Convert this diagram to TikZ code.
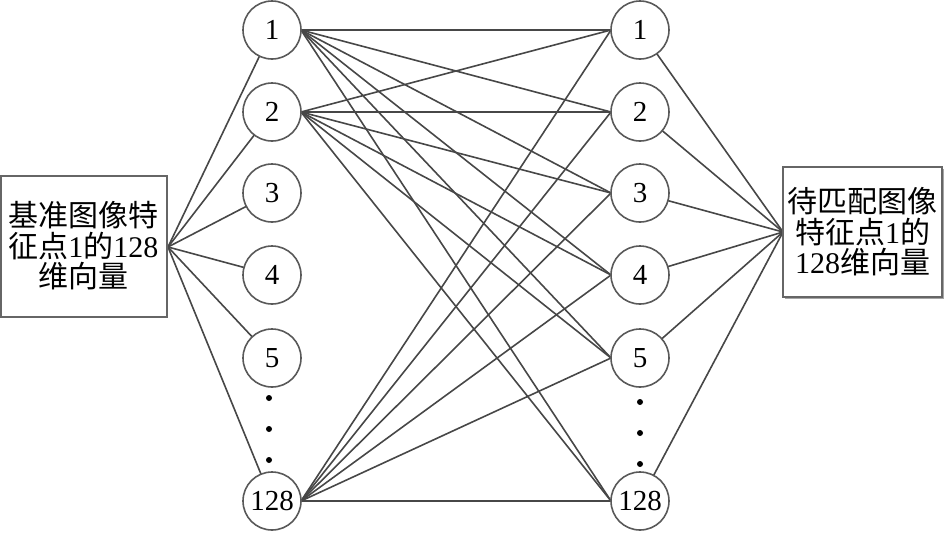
\documentclass[tikz,border=0pt]{standalone}
\usepackage{fontspec}
\setmainfont{Liberation Serif}
\newfontfamily\cjk{Noto Sans CJK SC}
\usetikzlibrary{shadows}
\begin{document}
\begin{tikzpicture}[x=1pt,y=-1pt,
  neuron/.style={circle,draw=black!65,line width=1.6pt,fill=white,minimum size=58pt,inner sep=0pt,font=\fontsize{29}{29}\selectfont},
  vecbox/.style={rectangle,draw=black!60,line width=2pt,fill=white,inner sep=0pt,align=center,
     font=\fontsize{30}{30.5}\selectfont,
     general shadow={shadow xshift=1.5pt,shadow yshift=-1.5pt,fill=black!35}},
  link/.style={draw=black!72,line width=1.6pt},
  dotn/.style={circle,fill=black,inner sep=0pt,minimum size=6pt}]
\useasboundingbox (0,0) rectangle (945,536);
% anchor points
\coordinate (lc) at (168,247);
\coordinate (rc) at (783,232);
\foreach \n/\y in {1/30,2/112,3/193,4/275,5/358,128/501}{
  \coordinate (Lc\n) at (272,\y);
  \coordinate (Rc\n) at (640,\y);
}
% links (behind nodes)
\foreach \n in {1,2,3,4,5,128}{
  \draw[link] (lc) -- (Lc\n);
  \draw[link] (Rc\n) -- (rc);
}
\foreach \a in {1,2,128}{
  \foreach \b in {1,2,3,4,5,128}{
    \draw[link] ([xshift=29pt]Lc\a) -- ([xshift=-29pt]Rc\b);
  }
}
% boxes
\node[vecbox,minimum width=166pt,minimum height=141pt] (lbox) at (83.5,246)
  {{\cjk 基准图像特}\\{\cjk 征点}1{\cjk 的}128\\{\cjk 维向量}};
\node[vecbox,minimum width=159pt,minimum height=130pt] (rbox) at (862.5,232)
  {{\cjk 待匹配图像}\\{\cjk 特征点}1{\cjk 的}\\128{\cjk 维向量}};
% neurons
\foreach \n in {1,2,3,4,5,128}{
  \node[neuron] (L\n) at (Lc\n) {\n};
  \node[neuron] (R\n) at (Rc\n) {\n};
}
% dots
\foreach \i/\y in {1/398,2/429,3/460}{
  \node[dotn] (ld\i) at (269,\y) {};
}
\foreach \i/\y in {1/402,2/433,3/464}{
  \node[dotn] (rd\i) at (640,\y) {};
}
\end{tikzpicture}
\end{document}
